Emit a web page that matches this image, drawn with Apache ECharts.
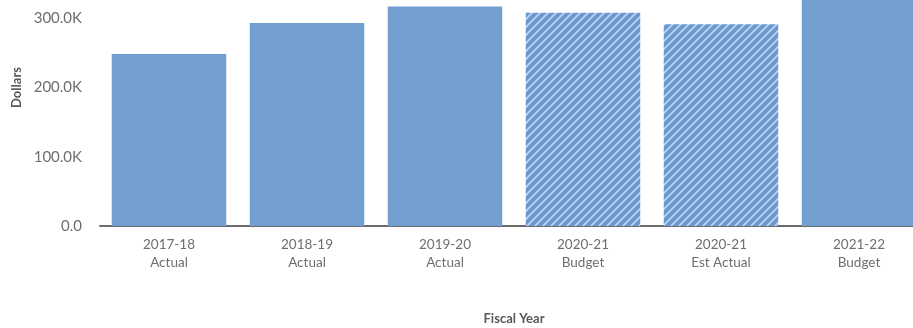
<!DOCTYPE html>
<html>
<head>
<meta charset="utf-8">
<script src="https://cdn.jsdelivr.net/npm/echarts@6/dist/echarts.min.js"></script>
<style>
  html, body { margin: 0; padding: 0; background: #fff; overflow: hidden; }
  /* chart canvas is larger than the viewport: the top of the value axis and the right end run off the frame */
  #chart { width: 940px; height: 379px; margin-top: -51px; }
</style>
</head>
<body>
<div id="chart"></div>
<script>
// Fiscal years and spending (dollars)
const years = ['2017-18', '2018-19', '2019-20', '2020-21', '2020-21', '2021-22'];
const kinds = ['Actual', 'Actual', 'Actual', 'Budget', 'Est Actual', 'Budget'];
const amounts = [248500, 293000, 317000, 308000, 291500, 340000];
// Which bars are projections (drawn hatched)
const projected = [false, false, false, true, true, false];
const yTicks = [0, 100000, 200000, 300000];

const barBlue = '#729fcf';

// Diagonal stripe tile for projected bars
function stripeTile() {
  const s = 8;
  const c = document.createElement('canvas');
  c.width = s; c.height = s;
  const g = c.getContext('2d');
  g.fillStyle = '#b7d0ec';
  g.fillRect(0, 0, s, s);
  g.strokeStyle = '#6898ce';
  g.lineWidth = 3.8;
  g.beginPath();
  g.moveTo(-1, s + 1); g.lineTo(s + 1, -1);
  g.moveTo(-1, 1); g.lineTo(1, -1);
  g.moveTo(s - 1, s + 1); g.lineTo(s + 1, s - 1);
  g.stroke();
  return c;
}
const hatch = { image: stripeTile(), repeat: 'repeat' };

const categories = years.map((y, i) => y + '\n' + kinds[i]);
const barData = amounts.map((v, i) => ({
  value: v,
  itemStyle: { color: projected[i] ? hatch : barBlue }
}));

const font = 'Lato, "Open Sans", sans-serif';
const chart = echarts.init(document.getElementById('chart'), null, { renderer: 'canvas' });
chart.setOption({
  animation: false,
  grid: { left: 100, width: 828, top: 0, bottom: 102, containLabel: false, outerBoundsMode: 'none' },
  xAxis: {
    type: 'category',
    data: categories,
    name: 'Fiscal Year',
    nameLocation: 'middle',
    nameGap: 86,
    nameTextStyle: { fontFamily: font, fontWeight: 'bold', fontSize: 13, color: '#595959' },
    axisLine: { lineStyle: { color: '#6b6b6b', width: 2 } },
    axisTick: { show: false },
    axisLabel: { fontFamily: font, fontSize: 13.5, color: '#6e6e6e', lineHeight: 18, margin: 10 }
  },
  yAxis: {
    type: 'value',
    min: 0,
    max: 400000,
    interval: 100000,
    name: 'Dollars',
    nameLocation: 'middle',
    nameGap: 76,
    nameTextStyle: { fontFamily: font, fontWeight: 'bold', fontSize: 13, color: '#595959' },
    axisLine: { show: false },
    axisTick: { show: false },
    splitLine: { show: false },
    axisLabel: {
      fontFamily: font, fontSize: 15, color: '#6e6e6e', margin: 18,
      formatter: v => yTicks.includes(v) ? (v === 0 ? '0.0' : (v / 1000).toFixed(1) + 'K') : ''
    }
  },
  series: [{
    type: 'bar',
    data: barData,
    barCategoryGap: '17%'
  }]
});
</script>
</body>
</html>
